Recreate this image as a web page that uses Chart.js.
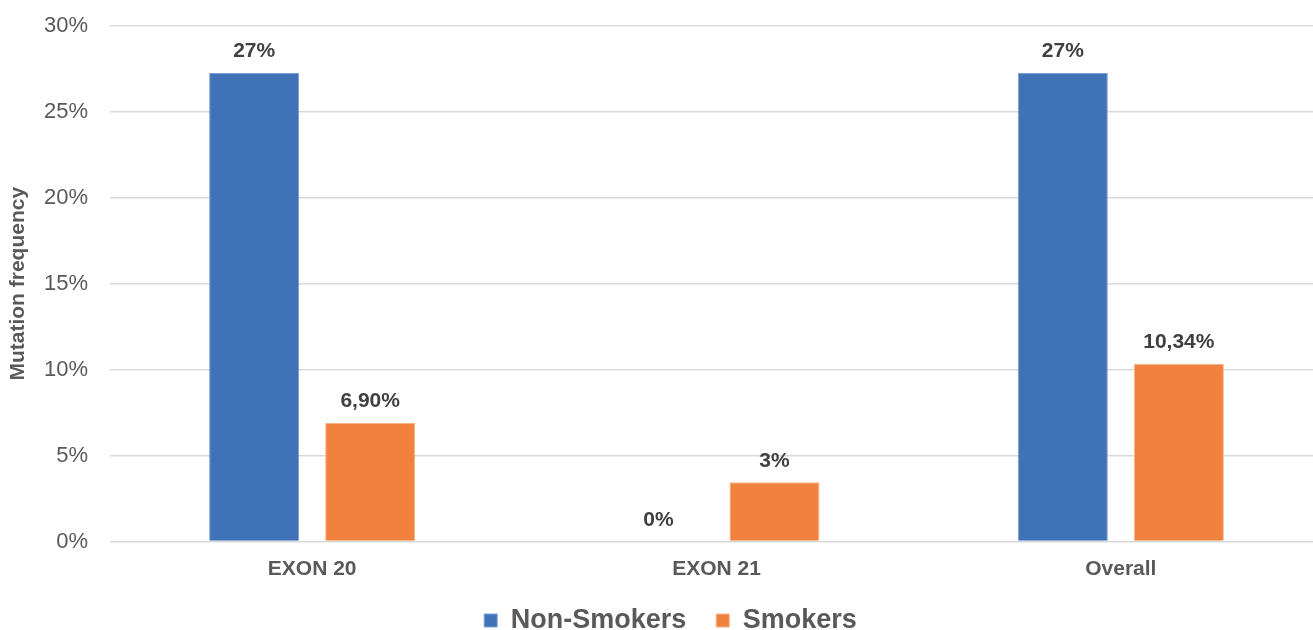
<!DOCTYPE html>
<html>
<head>
<meta charset="utf-8">
<script src="https://cdn.jsdelivr.net/npm/chart.js"></script>
<style>
  html, body { margin: 0; padding: 0; background: #fff; overflow: hidden; }
  #wrap { width: 1313px; height: 630px; overflow: hidden; }
</style>
</head>
<body>
<div id="wrap"><canvas id="chart" width="1323" height="644"></canvas></div>
<script>
const categories = ["EXON 20", "EXON 21", "Overall"]
const nonSmokers = [27.27, 0, 27.27]
const smokers = [6.9, 3.45, 10.34]
const nonSmokerLabels = ["27%", "0%", "27%"]
const smokerLabels = ["6,90%", "3%", "10,34%"]

const FONT = "'Liberation Sans', Arial, sans-serif"

// draws the value labels above each bar
const valueLabels = {
  id: "valueLabels",
  afterDatasetsDraw(chart) {
    const ctx = chart.ctx
    ctx.save()
    ctx.font = "bold 21px " + FONT
    ctx.fillStyle = "#404040"
    ctx.textAlign = "center"
    ctx.textBaseline = "bottom"
    chart.data.datasets.forEach((ds, i) => {
      const meta = chart.getDatasetMeta(i)
      meta.data.forEach((bar, j) => {
        ctx.fillText(ds.valueLabels[j], bar.x, bar.y - 11)
      })
    })
    ctx.restore()
  }
}

new Chart(document.getElementById("chart"), {
  type: "bar",
  data: {
    labels: categories,
    datasets: [
      {
        label: "Non-Smokers",
        data: nonSmokers,
        valueLabels: nonSmokerLabels,
        backgroundColor: "#4072B8",
        borderColor: "#7FA0D4",
        borderWidth: 1
      },
      {
        label: "Smokers",
        data: smokers,
        valueLabels: smokerLabels,
        backgroundColor: "#F0823D",
        borderColor: "#F6B48A",
        borderWidth: 1
      }
    ]
  },
  options: {
    responsive: false,
    animation: false,
    categoryPercentage: 0.574,
    barPercentage: 0.776,
    layout: { padding: { left: 18, top: 0, right: 0, bottom: 0 } },
    plugins: {
      legend: {
        position: "bottom",
        labels: {
          font: { family: FONT, size: 27, weight: "bold" },
          color: "#595959",
          boxWidth: 13,
          boxHeight: 13,
          padding: 30
        }
      },
      tooltip: { enabled: false }
    },
    scales: {
      x: {
        grid: { display: false },
        border: { display: false },
        ticks: {
          font: { family: FONT, size: 21, weight: "bold" },
          color: "#595959",
          padding: 7
        },
        afterFit: (scale) => { scale.height = 35.5 }
      },
      y: {
        min: 0,
        max: 30,
        ticks: {
          stepSize: 5,
          callback: (v) => v + "%",
          font: { family: FONT, size: 22, lineHeight: "8px" },
          color: "#595959",
          padding: 22
        },
        grid: { color: "#D9D9D9", lineWidth: 1.5, drawTicks: false },
        border: { display: false },
        title: {
          display: true,
          text: "Mutation frequency",
          font: { family: FONT, size: 21, weight: "bold" },
          color: "#595959",
          padding: { top: -12, bottom: 0 }
        },
        afterFit: (scale) => { scale.width = 92 }
      }
    }
  },
  plugins: [valueLabels]
})
</script>
</body>
</html>
